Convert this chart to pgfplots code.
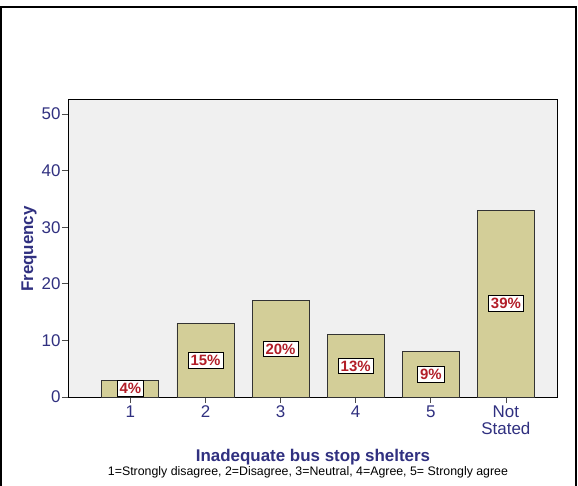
\documentclass[border=0pt]{standalone}
\usepackage{pgfplots}
\pgfplotsset{compat=1.18}
\usepackage{fontspec}
\setmainfont{Liberation Sans}
\definecolor{bgray}{RGB}{240,240,240}
\definecolor{bartan}{RGB}{211,206,152}
\definecolor{navy}{RGB}{48,48,128}
\definecolor{labred}{RGB}{178,30,40}

\begin{document}
\begin{tikzpicture}
\path[use as bounding box] (-68bp,-89bp) rectangle (510bp,397bp);
\fill[white] (-68bp,-89bp) rectangle (510bp,397bp);
\draw[line width=2.5bp] (-67bp,-95bp) -- (-67bp,390bp) -- (508bp,390bp) -- (508bp,-95bp);
\begin{axis}[
    at={(0,0)}, anchor=origin,
    scale only axis,
    width=489bp, height=298bp,
    xmin=0.17, xmax=6.68,
    ymin=0, ymax=52.65,
    axis background/.style={fill=bgray},
    axis line style={black, line width=0.9bp},
    ybar, bar width=57bp, bar shift=0pt,
    xtick={1,2,3,4,5,6},
    xticklabels={1,2,3,4,5,{Not\\Stated}},
    ytick={0,10,20,30,40,50},
    xtick pos=bottom, ytick pos=left,
    tick align=outside,
    major tick length=6bp,
    tick style={black!70, line width=0.8bp},
    /pgf/number format/assume math mode=true,
    tick label style={font=\fontsize{17}{17}\selectfont, text=navy},
    xticklabel style={align=center, yshift=1bp},
    yticklabel style={xshift=2bp},
    clip=false,
]
\addplot[fill=bartan, draw=black!80, line width=0.8bp] coordinates {
    (1,3) (2,13) (3,17) (4,11) (5,8) (6,33)
};
\addplot[draw=none, mark=none, nodes near coords, point meta=explicit symbolic,
    nodes near coords align=center,
    every node near coord/.append style={fill=white, draw=black, line width=0.7bp,
        inner xsep=2.5bp, inner ysep=2.5bp, text=labred,
        font=\fontsize{15}{15}\selectfont\bfseries, anchor=center}]
    table[meta=lab] {
x y lab
1 1.5 4\%
2 6.5 15\%
3 8.5 20\%
4 5.5 13\%
5 4 9\%
6 16.5 39\%
};
\end{axis}
\node[rotate=90, font=\fontsize{17}{17}\selectfont\bfseries, text=navy]
    at (-39bp,148bp) {Frequency};
\node[font=\fontsize{17}{17}\selectfont\bfseries, text=navy]
    at (245bp,-60bp) {Inadequate bus stop shelters};
\node[font=\fontsize{12.4}{13}\selectfont] at (240bp,-75bp)
    {1=Strongly disagree, 2=Disagree, 3=Neutral, 4=Agree, 5= Strongly agree};
\end{tikzpicture}
\end{document}
